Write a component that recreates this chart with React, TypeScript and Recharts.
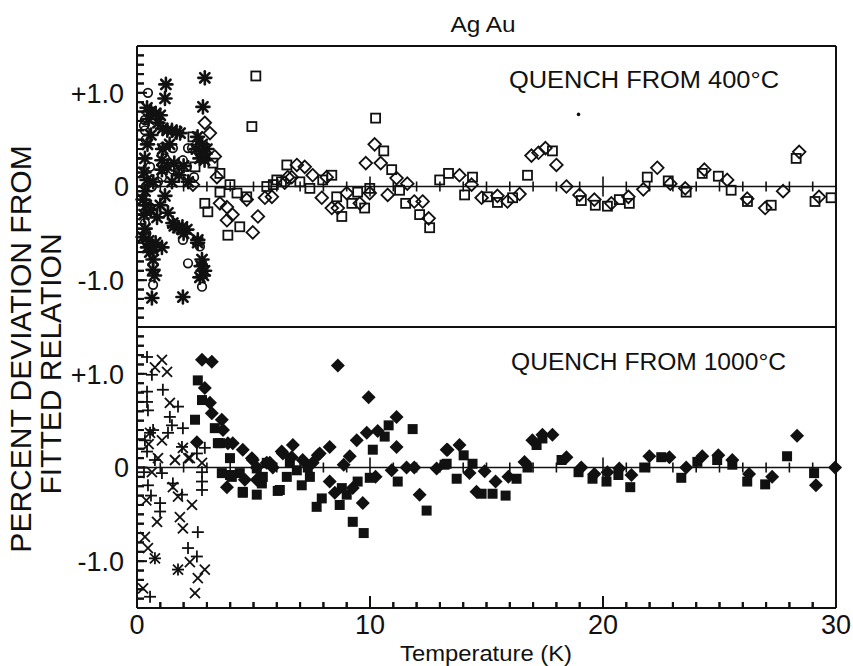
import React from 'react';
import { ScatterChart, Scatter, XAxis, YAxis, ReferenceLine } from 'recharts';

// ---------- data (Temperature K, percent deviation) ----------
const topCircles: number[][] = [
  [0.47, 1.0], [0.34, 0.71], [0.34, 0.6], [0.38, 0.5], [1.11, 0.42], [1.54, 0.41], [2.36, 0.41],
  [0.56, 0.21], [1.54, 0.18], [2.14, 0.21], [1.07, 0.1], [0.56, -0.22], [0.34, -0.39], [1.97, -0.57],
  [2.7, -0.64], [2.19, -0.82], [2.79, -1.07], [0.69, -1.05], [2.19, 0.41], [1.97, 0.28], [1.76, 0.15],
  [0.64, 0.0], [0.69, -0.28], [1.2, 0.3], [0.9, 0.05], [0.3, 0.65], [0.4, -0.5], [2.45, 0.1],
];
const topAsterisks: number[][] = [
  [2.91, 1.16], [1.24, 1.09], [1.2, 0.94], [2.83, 0.85], [0.43, 0.84], [0.6, 0.8], [0.8, 0.78], [1.0, 0.76],
  [0.5, 0.72], [1.1, 0.62], [1.3, 0.6], [1.5, 0.6], [1.7, 0.58], [1.85, 0.57], [0.34, 0.3], [1.07, 0.28],
  [1.07, 0.18], [1.3, 0.22], [1.6, 0.25], [2.0, 0.22], [0.43, 0.07], [0.7, 0.05], [1.5, 0.05], [0.26, -0.14],
  [0.4, -0.2], [0.6, -0.25], [0.86, -0.33], [1.33, -0.28], [1.54, -0.39], [1.75, -0.44], [1.95, -0.43],
  [2.14, -0.46], [0.26, -0.54], [0.5, -0.58], [0.8, -0.6], [1.07, -0.65], [0.69, -0.78], [0.69, -0.89],
  [2.61, -0.57], [2.79, -0.78], [2.7, -0.97], [2.9, -0.9], [0.64, -1.19], [1.97, -1.18], [2.6, 0.53],
  [2.8, 0.45], [3.0, 0.4], [2.7, 0.3], [2.9, 0.28], [0.3, 0.15], [0.35, -0.05], [0.3, -0.3], [0.35, -0.45],
  [0.45, -0.65], [0.55, -0.7], [0.7, -0.68], [0.75, -0.95], [0.6, 0.55], [0.45, 0.45], [1.2, -0.1],
  [1.0, -0.2], [1.1, 0.4], [1.4, 0.45], [1.8, 0.12], [2.2, 0.05], [0.9, 0.68], [1.6, -0.42], [2.0, -0.5],
  [2.75, -0.85], [2.85, -0.95], [2.6, -0.6], [2.85, 0.35], [2.55, 0.4],
];
const topSquares: number[][] = [
  [5.1, 1.18], [4.93, 0.64], [2.4, 0.53], [3.26, 0.25], [2.49, 0.21], [3.56, 0.14], [2.91, -0.18], [3.04, -0.27],
  [3.56, -0.06], [3.99, 0.02], [4.29, -0.07], [4.71, -0.11], [4.41, -0.43], [3.9, -0.52], [5.57, 0.0], [6.0, 0.07],
  [6.43, 0.23], [5.85, 0.02], [6.2, 0.05], [6.99, 0.05], [7.42, -0.02], [7.97, 0.07], [8.36, 0.12],
  [8.57, -0.11], [8.79, -0.32], [9.22, -0.18], [9.47, -0.06], [9.77, -0.23], [9.99, -0.02], [10.24, 0.73],
  [10.59, 0.38], [10.93, 0.18], [11.27, -0.04], [11.53, -0.18], [12.13, -0.3], [12.56, -0.44], [12.99, 0.07],
  [13.37, 0.14], [14.06, -0.09], [14.4, 0.1], [15.04, -0.11], [15.47, -0.17], [16.12, -0.12], [16.76, 0.12],
  [17.83, 0.38], [19.07, -0.15], [19.67, -0.2], [20.19, -0.21], [20.7, -0.14], [21.13, -0.18], [21.9, 0.1],
  [22.8, 0.06], [23.57, -0.06], [24.26, 0.14], [24.95, 0.11], [25.5, -0.04], [26.2, -0.16], [27.22, -0.2],
  [28.29, 0.3], [29.1, -0.16], [29.79, -0.12],
];
const topDiamonds: number[][] = [
  [2.91, 0.68], [3.13, 0.57], [3.34, 0.32], [3.43, 0.1], [2.4, 0.02], [3.56, -0.18], [3.86, -0.22], [3.86, -0.36],
  [4.1, -0.3], [4.71, -0.14], [5.19, -0.32], [4.97, -0.49], [5.49, -0.12], [5.79, -0.11], [6.34, 0.04],
  [6.47, 0.1], [6.64, 0.1], [6.86, 0.23], [7.2, 0.21], [7.54, 0.12], [7.93, -0.12], [8.14, 0.1], [8.36, -0.23],
  [8.62, -0.23], [9.0, -0.07], [9.56, -0.18], [9.82, 0.25], [9.99, -0.07], [10.2, 0.45], [10.46, 0.25],
  [10.76, -0.09], [11.14, 0.09], [11.6, 0.03], [11.9, -0.16], [12.26, -0.16], [12.52, -0.34], [13.84, 0.12],
  [14.36, 0.02], [14.79, -0.12], [15.47, -0.1], [15.9, -0.16], [16.42, -0.08], [16.93, 0.33], [17.23, 0.36],
  [17.53, 0.41], [18.0, 0.23], [18.43, 0.0], [18.99, -0.09], [19.63, -0.14], [20.36, -0.18], [21.09, -0.11],
  [21.73, -0.03], [22.33, 0.2], [22.89, 0.03], [23.53, -0.02], [24.35, 0.18], [25.33, 0.07], [26.19, -0.13],
  [26.96, -0.23], [27.73, -0.05], [28.42, 0.37], [29.27, -0.11],
];
const topDot: number[][] = [[18.95, 0.77]];

const botPlus: number[][] = [
  [0.43, 1.18], [0.64, 0.99], [1.11, 0.83], [0.43, 0.81], [0.43, 0.7], [0.47, 0.61], [1.41, 0.54], [1.76, 0.65],
  [1.5, 0.45], [1.97, 0.42], [0.69, 0.4], [1.33, 0.37], [0.34, 0.29], [1.93, 0.22], [2.91, 0.21], [2.57, 0.15],
  [0.43, 0.17], [0.77, 0.08], [2.79, -0.05], [2.79, -0.15], [2.79, -0.24], [1.07, -0.06], [0.47, -0.19],
  [0.99, -0.38], [0.99, -0.47], [2.61, -0.69], [2.19, -0.86], [2.57, -0.95], [0.56, -1.38], [1.54, -0.17],
  [1.93, -0.29], [0.77, -0.97], [1.76, -1.09], [0.56, 0.37], [0.3, -0.05], [0.6, -0.3],
];
const botCross: number[][] = [
  [1.07, 1.15], [1.29, 1.02], [0.77, 1.07], [1.41, 0.69], [1.07, 0.29], [1.97, 0.21], [2.27, 0.1], [1.63, 0.08],
  [2.79, 0.05], [0.64, -0.05], [1.54, -0.21], [1.76, -0.31], [2.36, -0.4], [0.86, -0.58], [1.84, -0.53],
  [1.97, -0.65], [0.34, -0.74], [0.47, -0.86], [2.27, -1.01], [2.91, -1.09], [2.61, -1.18], [2.49, -1.34],
  [0.26, -1.29], [0.77, -0.97], [1.76, -1.09], [0.56, 0.37], [0.5, 0.25], [0.9, 0.1], [0.4, -0.35], [2.2, 0.1],
];
const botSquares: number[][] = [
  [2.61, 0.93], [2.79, 0.72], [2.49, 0.51], [3.34, 0.42], [3.56, 0.26], [3.99, 0.1], [3.64, -0.06], [3.99, -0.08],
  [4.41, -0.06], [4.54, -0.26], [5.14, -0.29], [5.36, -0.17], [6.13, -0.24], [4.54, -0.27], [5.4, -0.1],
  [3.47, 0.26], [4.07, -0.1], [5.14, -0.01], [6.43, -0.1], [5.57, 0.05], [6.56, 0.05], [7.33, 0.0], [6.86, -0.03],
  [7.42, -0.1], [7.07, -0.19], [6.04, -0.25], [7.93, -0.33], [7.71, -0.42], [8.7, -0.4], [9.0, -0.29],
  [9.47, -0.15], [9.26, -0.58], [9.73, -0.7], [8.79, -0.22], [9.99, -0.11], [10.12, 0.19], [10.63, 0.33],
  [10.8, 0.45], [11.83, 0.41], [11.19, -0.15], [12.43, -0.46], [13.2, 0.03], [13.29, 0.04], [13.72, -0.12],
  [14.02, 0.13], [14.4, 0.04], [14.79, -0.28], [15.26, -0.28], [15.82, -0.3], [16.29, -0.12], [16.76, 0.0],
  [17.15, 0.24], [17.4, 0.31], [18.22, 0.08], [18.95, -0.05], [19.55, -0.12], [20.15, -0.15], [20.66, -0.08],
  [21.17, -0.21], [21.77, 0.0], [22.5, 0.11], [23.36, -0.11], [24.05, 0.06], [24.9, 0.08], [25.55, 0.03],
  [26.19, -0.15], [26.96, -0.18], [27.9, 0.12], [29.06, -0.06],
];
const botDiamonds: number[][] = [
  [2.79, 1.15], [3.21, 1.13], [2.91, 0.85], [3.13, 0.69], [3.21, 0.58], [3.64, 0.51], [3.69, 0.4], [2.57, 0.27],
  [4.11, 0.26], [4.54, 0.19], [4.93, 0.1], [3.86, -0.21], [4.63, -0.13], [5.14, 0.0], [5.57, 0.05], [6.21, 0.17],
  [6.69, 0.24], [4.97, 0.08], [5.7, 0.05], [3.9, 0.26], [5.14, -0.13], [5.83, 0.0], [6.64, 0.11], [8.62, 1.09],
  [9.94, 0.75], [11.14, 0.54], [10.33, 0.39], [9.86, 0.37], [9.43, 0.29], [11.14, 0.22], [9.13, 0.12],
  [8.27, 0.22], [7.76, 0.13], [6.26, 0.15], [8.87, 0.03], [10.93, -0.03], [11.57, 0.0], [11.9, 0.0],
  [12.86, -0.01], [13.29, 0.19], [10.24, -0.1], [8.27, -0.15], [8.49, -0.27], [9.69, -0.38], [12.13, -0.29],
  [7.11, 0.08], [7.54, 0.05], [7.84, 0.15], [9.26, -0.22], [13.33, 0.19], [13.84, 0.24], [14.27, -0.06],
  [14.57, -0.26], [14.92, -0.04], [15.39, -0.15], [15.94, -0.1], [16.63, 0.06], [16.97, 0.29], [17.4, 0.35],
  [17.83, 0.35], [18.43, 0.11], [19.07, 0.0], [19.63, -0.07], [20.19, -0.05], [20.7, -0.01], [21.22, -0.08],
  [21.99, 0.12], [22.85, 0.11], [23.57, 0.0], [24.26, 0.12], [24.95, 0.13], [25.55, 0.08], [26.27, -0.07],
  [27.26, -0.1], [28.33, 0.34], [29.14, -0.19], [29.96, 0.0],
];

const xTicks = [0, 1, 2, 3, 4, 5, 6, 7, 8, 9, 10, 11, 12, 13, 14, 15, 16, 17, 18, 19, 20, 21, 22, 23, 24, 25, 26, 27, 28, 29, 30];
const xLabels = [0, 10, 20, 30];
const xMajor = [10, 20];
const yTicks = [-1.5, -1.4, -1.3, -1.2, -1.1, -1.0, -0.9, -0.8, -0.7, -0.6, -0.5, -0.4, -0.3, -0.2, -0.1, 0,
  0.1, 0.2, 0.3, 0.4, 0.5, 0.6, 0.7, 0.8, 0.9, 1.0, 1.1, 1.2, 1.3, 1.4, 1.5];
const yLabelTicks = [-1, 0, 1];
const yLabelText = ['-1.0', '0', '+1.0'];

const title = 'Ag Au';
const topNote = 'QUENCH FROM 400°C';
const botNote = 'QUENCH FROM 1000°C';
const xTitle = 'Temperature (K)';
const yTitle1 = 'PERCENT DEVIATION FROM';
const yTitle2 = 'FITTED RELATION';

const toPts = (a: number[][]) => a.map(([x, y]) => ({ x, y }));

// ---------- styles ----------
const INK = '#111';
const FONT = '"Liberation Sans", Arial, sans-serif';
const Y_TICK_LEN = 7;
const X_TICK_LEN = 6;
const W = 853;

// ---------- marker shapes ----------
const OpenCircle = (p: any) =>
  p.cx == null ? null : <circle cx={p.cx} cy={p.cy} r={4.3} fill="none" stroke={INK} strokeWidth={1.7} />;
const Asterisk = (p: any) => {
  if (p.cx == null) return null;
  const { cx, cy } = p;
  const r = 6.5;
  const d = r * 0.72;
  return (
    <g stroke={INK} strokeWidth={2.6} strokeLinecap="round">
      <line x1={cx - r} y1={cy} x2={cx + r} y2={cy} />
      <line x1={cx} y1={cy - r} x2={cx} y2={cy + r} />
      <line x1={cx - d} y1={cy - d} x2={cx + d} y2={cy + d} />
      <line x1={cx - d} y1={cy + d} x2={cx + d} y2={cy - d} />
      <circle cx={cx} cy={cy} r={3} fill={INK} stroke="none" />
    </g>
  );
};
const OpenSquare = (p: any) =>
  p.cx == null ? null : (
    <rect x={p.cx - 4.5} y={p.cy - 4.5} width={9} height={9} fill="none" stroke={INK} strokeWidth={1.8} />
  );
const OpenDiamond = (p: any) => {
  if (p.cx == null) return null;
  const r = 6.3;
  const { cx, cy } = p;
  return (
    <polygon points={`${cx},${cy - r} ${cx + r},${cy} ${cx},${cy + r} ${cx - r},${cy}`} fill="none" stroke={INK} strokeWidth={1.8} />
  );
};
const Dot = (p: any) => (p.cx == null ? null : <circle cx={p.cx} cy={p.cy} r={1.8} fill={INK} />);
const FilledSquare = (p: any) =>
  p.cx == null ? null : <rect x={p.cx - 5} y={p.cy - 5} width={10} height={10} fill={INK} />;
const FilledDiamond = (p: any) => {
  if (p.cx == null) return null;
  const r = 7;
  const { cx, cy } = p;
  return <polygon points={`${cx},${cy - r} ${cx + r},${cy} ${cx},${cy + r} ${cx - r},${cy}`} fill={INK} />;
};
const Plus = (p: any) => {
  if (p.cx == null) return null;
  const { cx, cy } = p;
  const r = 6;
  return (
    <g stroke={INK} strokeWidth={1.8}>
      <line x1={cx - r} y1={cy} x2={cx + r} y2={cy} />
      <line x1={cx} y1={cy - r} x2={cx} y2={cy + r} />
    </g>
  );
};
const Cross = (p: any) => {
  if (p.cx == null) return null;
  const { cx, cy } = p;
  const r = 5;
  return (
    <g stroke={INK} strokeWidth={1.8}>
      <line x1={cx - r} y1={cy - r} x2={cx + r} y2={cy + r} />
      <line x1={cx - r} y1={cy + r} x2={cx + r} y2={cy - r} />
    </g>
  );
};
const NoMark = () => null;

// ---------- axis ticks: inward tick (rect) + label ----------
const YTick = (p: any) => {
  const { x, y, payload } = p;
  const v = Math.round(payload.value * 10) / 10;
  const i = yLabelTicks.indexOf(v);
  const ax = x - Y_TICK_LEN; // axis line position
  const lab = i >= 0 ? yLabelText[i] : null;
  return (
    <g>
      <rect x={ax} y={y - 1} width={i >= 0 ? 10 : Y_TICK_LEN} height={2} fill={INK} />
      {lab !== null && (
        <text x={lab === '0' ? ax - 8 : ax - 13} y={y} dy="0.36em" textAnchor="end" fontSize={27} fontFamily={FONT} fill={INK} stroke="none">
          {lab}
        </text>
      )}
    </g>
  );
};
const XTick = (p: any) => {
  const { x, y, payload } = p;
  const v = payload.value;
  const ay = y + X_TICK_LEN; // axis line position
  const len = xMajor.includes(v) ? 12 : X_TICK_LEN;
  return (
    <g>
      <rect x={x - 1} y={ay - len} width={2} height={len} fill={INK} />
      {xLabels.includes(v) && (
        <text x={x} y={ay + 26} textAnchor="middle" fontSize={27} fontFamily={FONT} fill={INK} stroke="none">
          {v}
        </text>
      )}
    </g>
  );
};

// ---------- tick marks along zero line ----------
const PX_Y = 3 / 281; // % per pixel
const zeroTicks = () =>
  xTicks
    .filter((k) => k > 0 && k < 30)
    .map((k) => {
      const h = (xMajor.includes(k) ? 10 : 5) * PX_Y;
      return (
        <ReferenceLine key={`zt${k}`} segment={[{ x: k, y: -h }, { x: k, y: h }]} stroke={INK} strokeWidth={1.6} ifOverflow="visible" />
      );
    });

const frame = () => [
  <ReferenceLine key="ft" y={1.5} stroke={INK} strokeWidth={2} ifOverflow="visible" />,
  <ReferenceLine key="fb" y={-1.5} stroke={INK} strokeWidth={2} ifOverflow="visible" />,
  <ReferenceLine key="fr" x={30} stroke={INK} strokeWidth={2} ifOverflow="visible" />,
  <ReferenceLine key="z" y={0} stroke={INK} strokeWidth={1.5} />,
];

const TOP_GEOM = { height: 340, margin: { top: 46, right: 17, bottom: 13, left: 0 } };
const BOT_GEOM = { height: 366, margin: { top: 27, right: 17, bottom: 0, left: 0 } };

// Axis-only layer (drawn above the data layer): ticks and tick labels
const AxisLayer = ({ bottom, data }: { bottom: boolean; data: number[][] }) => {
  const g = bottom ? BOT_GEOM : TOP_GEOM;
  return (
    <ScatterChart width={W} height={g.height} margin={g.margin}>
      {bottom ? (
        <XAxis
          type="number"
          dataKey="x"
          domain={[0, 30]}
          ticks={xTicks}
          interval={0}
          height={58}
          tickSize={-X_TICK_LEN}
          tickMargin={0}
          tickLine={{ stroke: INK, strokeWidth: 2 }}
          axisLine={{ stroke: INK, strokeWidth: 2 }}
          tick={<XTick />}
        />
      ) : (
        <XAxis type="number" dataKey="x" domain={[0, 30]} hide />
      )}
      <YAxis
        type="number"
        dataKey="y"
        domain={[-1.5, 1.5]}
        ticks={yTicks}
        interval={0}
        width={137}
        tickSize={-Y_TICK_LEN}
        tickMargin={0}
        tickLine={{ stroke: INK, strokeWidth: 2 }}
        axisLine={{ stroke: INK, strokeWidth: 2 }}
        tick={<YTick />}
      />
      <Scatter data={toPts(data)} shape={NoMark} isAnimationActive={false} />
    </ScatterChart>
  );
};

// Data layer: frame, zero line, markers
const DataLayer = ({ bottom, children }: { bottom: boolean; children: React.ReactNode }) => {
  const g = bottom ? BOT_GEOM : TOP_GEOM;
  return (
    <ScatterChart width={W} height={g.height} margin={g.margin}>
      {bottom ? (
        <XAxis type="number" dataKey="x" domain={[0, 30]} height={58} tick={false} tickLine={false} axisLine={false} />
      ) : (
        <XAxis type="number" dataKey="x" domain={[0, 30]} hide />
      )}
      <YAxis type="number" dataKey="y" domain={[-1.5, 1.5]} width={137} tick={false} tickLine={false} axisLine={false} />
      {frame()}
      {zeroTicks()}
      {children}
    </ScatterChart>
  );
};

export default function App() {
  return (
    <div style={{ position: 'absolute', left: 0, top: 0, width: W, height: 666, background: '#fff' }}>
      {/* Text layer */}
      <svg width={W} height={666} style={{ position: 'absolute', left: 0, top: 0 }}>
        <g fontFamily={FONT} fill={INK}>
          <text x={483} y={32} textAnchor="middle" fontSize={22} textLength={65} lengthAdjust="spacingAndGlyphs">{title}</text>
          <text x={509} y={88} fontSize={23} textLength={270} lengthAdjust="spacingAndGlyphs">{topNote}</text>
          <text x={511} y={370} fontSize={23} textLength={275} lengthAdjust="spacingAndGlyphs">{botNote}</text>
          <text x={486} y={661} textAnchor="middle" fontSize={22} textLength={172} lengthAdjust="spacingAndGlyphs">{xTitle}</text>
          <text transform="translate(20,349) rotate(-90)" textAnchor="middle" dominantBaseline="central" fontSize={30}>{yTitle1}</text>
          <text transform="translate(50,364) rotate(-90)" textAnchor="middle" dominantBaseline="central" fontSize={30}>{yTitle2}</text>
        </g>
      </svg>
      {/* Top panel data */}
      <div style={{ position: 'absolute', left: 0, top: 0 }}>
        <DataLayer bottom={false}>
          <Scatter data={toPts(topCircles)} shape={OpenCircle} isAnimationActive={false} />
          <Scatter data={toPts(topAsterisks)} shape={Asterisk} isAnimationActive={false} />
          <Scatter data={toPts(topSquares)} shape={OpenSquare} isAnimationActive={false} />
          <Scatter data={toPts(topDiamonds)} shape={OpenDiamond} isAnimationActive={false} />
          <Scatter data={toPts(topDot)} shape={Dot} isAnimationActive={false} />
        </DataLayer>
      </div>
      {/* Bottom panel data */}
      <div style={{ position: 'absolute', left: 0, top: 300 }}>
        <DataLayer bottom>
          <Scatter data={toPts(botPlus)} shape={Plus} isAnimationActive={false} />
          <Scatter data={toPts(botCross)} shape={Cross} isAnimationActive={false} />
          <Scatter data={toPts(botSquares)} shape={FilledSquare} isAnimationActive={false} />
          <Scatter data={toPts(botDiamonds)} shape={FilledDiamond} isAnimationActive={false} />
        </DataLayer>
      </div>
      {/* Axis layers on top */}
      <div style={{ position: 'absolute', left: 0, top: 0, pointerEvents: 'none' }}>
        <AxisLayer bottom={false} data={topDot} />
      </div>
      <div style={{ position: 'absolute', left: 0, top: 300, pointerEvents: 'none' }}>
        <AxisLayer bottom data={topDot} />
      </div>
    </div>
  );
}
